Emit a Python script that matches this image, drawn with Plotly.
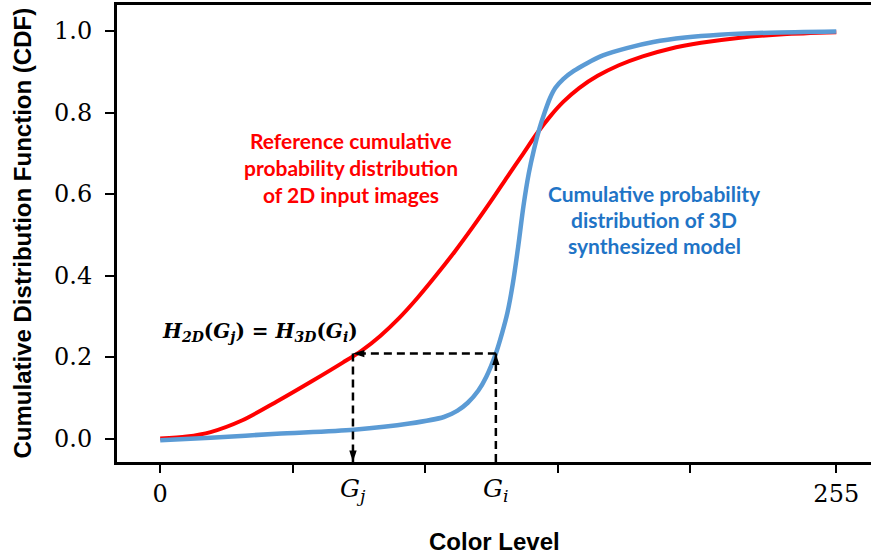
import plotly.graph_objects as go

# Color level (x) and CDF values
red_x = [0, 10, 19, 31, 44, 57, 69, 76, 83, 90, 97, 104, 111, 118, 125, 131,
         137, 142, 147, 152, 158, 165, 173, 182, 192, 204, 218, 235, 255]
red_y = [0.0, 0.005, 0.016, 0.045, 0.091, 0.14, 0.187, 0.216, 0.252, 0.295,
         0.345, 0.4, 0.458, 0.52, 0.585, 0.643, 0.7, 0.748, 0.79, 0.826,
         0.86, 0.89, 0.916, 0.938, 0.956, 0.971, 0.983, 0.992, 0.997]

blue_x = [0, 19, 44, 73, 94, 107, 112, 116, 120, 123, 126.6, 129, 131, 133,
          135, 137, 139, 141, 143, 145, 147, 149, 152, 156, 161, 167, 176,
          186, 198, 211, 230, 255]
blue_y = [-0.004, 0.002, 0.012, 0.022, 0.037, 0.053, 0.068, 0.088, 0.118,
          0.152, 0.209, 0.26, 0.31, 0.38, 0.47, 0.57, 0.65, 0.71, 0.76, 0.80,
          0.835, 0.86, 0.882, 0.902, 0.921, 0.94, 0.958, 0.973, 0.984, 0.991,
          0.996, 0.999]

# Matching points
g_j, g_i = 72.7, 126.6
h_level = 0.2085

x_ticks = [0, 255]
x_minor = [50, 100, 150, 200]
y_ticks = [0.0, 0.2, 0.4, 0.6, 0.8, 1.0]

x_range = [-16.3, 268.1]
y_range = [-0.0574, 1.0638]

RED = "#FF0000"
BLUE = "#5B9BD5"
serif = "DejaVu Serif"

fig = go.Figure()

fig.add_trace(go.Scatter(x=red_x, y=red_y, mode="lines",
                         line=dict(color=RED, width=4, shape="spline", smoothing=0.8)))
fig.add_trace(go.Scatter(x=blue_x, y=blue_y, mode="lines",
                         line=dict(color=BLUE, width=4.5, shape="spline", smoothing=0.8)))

# dashed mapping arrows
dash = dict(color="black", width=2.5, dash="8px,5px")
fig.add_trace(go.Scatter(x=[g_i, g_i], y=[y_range[0], h_level], mode="lines", line=dash,
                         cliponaxis=False))
fig.add_trace(go.Scatter(x=[g_i, g_j], y=[h_level, h_level], mode="lines", line=dash))
fig.add_trace(go.Scatter(x=[g_j, g_j], y=[h_level, y_range[0]], mode="lines", line=dash,
                         cliponaxis=False))
fig.add_trace(go.Scatter(
    x=[g_i, g_j, g_j], y=[h_level, h_level, y_range[0]], mode="markers",
    marker=dict(symbol="arrow", size=12, color="black", angle=[0, -90, 180],
                line=dict(width=0)),
    cliponaxis=False))

# text labels
red_lines = ["Reference cumulative", "probability distribution", "of 2D input images"]
for i, t in enumerate(red_lines):
    fig.add_annotation(x=72, y=0.731 - i * 0.066, text=f"<b>{t}</b>", showarrow=False,
                       font=dict(family="Lato", size=21, color=RED))
blue_lines = ["Cumulative probability", "distribution of 3D", "synthesized model"]
for i, t in enumerate(blue_lines):
    fig.add_annotation(x=186.3, y=0.601 - i * 0.064, text=f"<b>{t}</b>", showarrow=False,
                       font=dict(family="Lato", size=21, color="#1F74C6"))

fig.add_annotation(
    x=37.7, y=0.2615, showarrow=False,
    text="<b><i>H<sub>2D</sub></i>(<i>G<sub>j</sub></i>) = <i>H<sub>3D</sub></i>(<i>G<sub>i</sub></i>)</b>",
    font=dict(family=serif, size=20, color="black"))

for gx, name in [(g_j, "j"), (g_i, "i")]:
    fig.add_annotation(x=gx, y=0, yref="paper", yshift=-28, yanchor="middle",
                       showarrow=False, text=f"<i>G<sub>{name}</sub></i>",
                       font=dict(family=serif, size=25, color="black"))

fig.add_annotation(x=0.5, y=0, xref="paper", yref="paper", yshift=-79, yanchor="middle",
                   showarrow=False, text="<b>Color Level</b>",
                   font=dict(family="Liberation Sans", size=24, color="black"))
fig.add_annotation(x=0, y=0.5, xref="paper", yref="paper", xshift=-95, xanchor="center",
                   textangle=-90, showarrow=False,
                   text="<b>Cumulative Distribution Function (CDF)</b>",
                   font=dict(family="Liberation Sans", size=24, color="black"))

fig.update_layout(
    width=871, height=556,
    margin=dict(l=117, r=0, t=5, b=94),
    paper_bgcolor="white", plot_bgcolor="white",
    showlegend=False,
    xaxis=dict(range=x_range, tickvals=x_ticks,
               ticks="outside", ticklen=8, tickwidth=2, tickcolor="black",
               ticklabelstandoff=0,
               minor=dict(tickvals=x_minor, ticks="outside", ticklen=8, tickwidth=2,
                          tickcolor="black", showgrid=False),
               showline=True, linewidth=3, linecolor="black", mirror=True,
               showgrid=False, zeroline=False,
               tickfont=dict(family=serif, size=24, color="black")),
    yaxis=dict(range=y_range, tickvals=y_ticks, tickformat=".1f",
               ticks="outside", ticklen=9, tickwidth=2, tickcolor="black",
               ticklabelstandoff=8,
               showline=True, linewidth=3, linecolor="black",
               showgrid=False, zeroline=False,
               tickfont=dict(family=serif, size=24, color="black")),
)

fig.write_html("out.html", config={"displayModeBar": False},
               post_script="document.body.style.margin='0';")
